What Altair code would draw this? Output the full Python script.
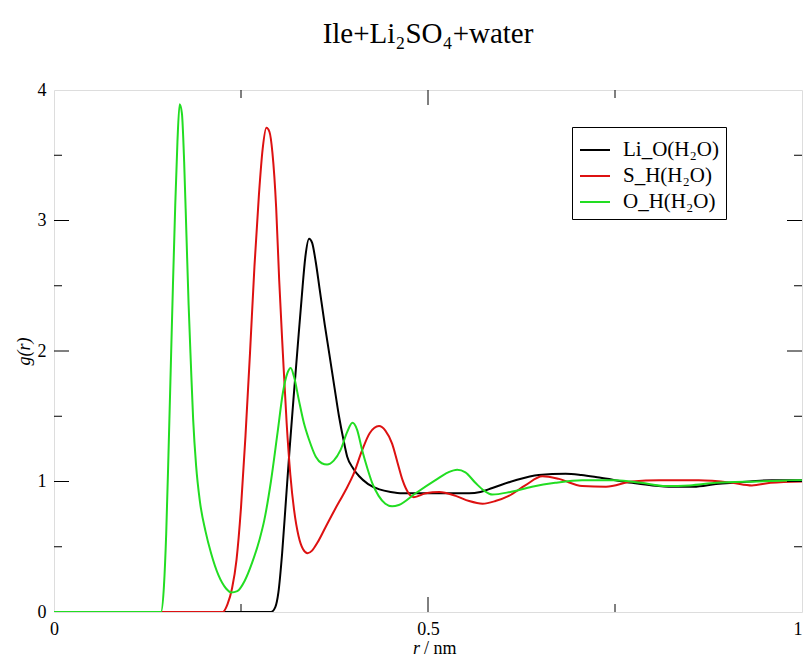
import altair as alt
import pandas as pd

# ---------------- data ----------------
series_names = ["Li_O(H₂O)", "S_H(H₂O)", "O_H(H₂O)"]
series_colors = ["#000000", "#dd1111", "#22dd22"]

r_li = [0.0, 0.29, 0.296, 0.300, 0.305, 0.310, 0.315, 0.320, 0.326, 0.331, 0.336,
        0.341, 0.345, 0.350, 0.355, 0.362, 0.368, 0.375, 0.381, 0.387, 0.392,
        0.400, 0.408, 0.420, 0.435, 0.450, 0.466, 0.520, 0.555, 0.570, 0.586,
        0.617, 0.648, 0.684, 0.705, 0.729, 0.773, 0.800, 0.827, 0.855, 0.885,
        0.930, 0.960, 1.0]
g_li = [0.0, 0.0, 0.04, 0.15, 0.45, 0.85, 1.25, 1.62, 2.05, 2.40, 2.72,
        2.86, 2.83, 2.68, 2.48, 2.20, 1.98, 1.72, 1.50, 1.32, 1.19,
        1.10, 1.04, 0.98, 0.94, 0.92, 0.91, 0.91, 0.91, 0.92, 0.95,
        1.01, 1.05, 1.06, 1.05, 1.03, 0.99, 0.97, 0.96, 0.96, 0.98,
        1.00, 1.01, 1.01]

r_s = [0.0, 0.2256, 0.232, 0.238, 0.244, 0.250, 0.256, 0.262, 0.268, 0.274, 0.279,
       0.284, 0.288, 0.292, 0.297, 0.301, 0.306, 0.311, 0.316, 0.321, 0.327,
       0.333, 0.339, 0.345, 0.352, 0.363, 0.375, 0.390, 0.400, 0.412, 0.422,
       0.4345, 0.443, 0.452, 0.459, 0.466, 0.474, 0.481, 0.497, 0.515, 0.537,
       0.555, 0.573, 0.590, 0.608, 0.630, 0.653, 0.675, 0.706, 0.738, 0.773,
       0.809, 0.862, 0.907, 0.933, 0.958, 1.0]
g_s = [0.0, 0.0, 0.06, 0.18, 0.40, 0.80, 1.35, 1.98, 2.65, 3.20, 3.55,
       3.71, 3.68, 3.52, 3.10, 2.55, 1.98, 1.45, 1.05, 0.78, 0.58,
       0.48, 0.45, 0.47, 0.53, 0.65, 0.78, 0.935, 1.05, 1.24, 1.37,
       1.425, 1.39, 1.29, 1.15, 1.01, 0.91, 0.88, 0.91, 0.92, 0.89,
       0.85, 0.83, 0.85, 0.89, 0.97, 1.04, 1.02, 0.965, 0.96, 1.00,
       1.01, 1.01, 0.99, 0.97, 0.99, 1.00]

r_o = [0.0, 0.143, 0.147, 0.150, 0.153, 0.156, 0.159, 0.162, 0.165, 0.168, 0.171,
       0.174, 0.177, 0.180, 0.183, 0.186, 0.190, 0.195, 0.2025, 0.210, 0.220,
       0.230, 0.237, 0.245, 0.255, 0.265, 0.275, 0.281, 0.290, 0.299, 0.306,
       0.312, 0.3165, 0.321, 0.3275, 0.334, 0.341, 0.350, 0.358, 0.365, 0.374,
       0.383, 0.392, 0.399, 0.405, 0.412, 0.419, 0.4256, 0.434, 0.443, 0.452,
       0.461, 0.4835, 0.510, 0.527, 0.539, 0.550, 0.564, 0.575, 0.586, 0.610,
       0.639, 0.670, 0.706, 0.751, 0.785, 0.818, 0.850, 0.885, 0.940, 1.0]
g_o = [0.0, 0.0, 0.20, 0.60, 1.20, 1.85, 2.50, 3.10, 3.60, 3.89, 3.82,
       3.45, 2.90, 2.35, 1.90, 1.48, 1.12, 0.85, 0.62, 0.45, 0.28,
       0.18, 0.15, 0.16, 0.24, 0.38, 0.56, 0.70, 1.00, 1.38, 1.68,
       1.83, 1.87, 1.80, 1.62, 1.45, 1.32, 1.19, 1.14, 1.13, 1.16,
       1.24, 1.38, 1.45, 1.40, 1.24, 1.10, 0.986, 0.89, 0.83, 0.81,
       0.82, 0.91, 1.01, 1.07, 1.09, 1.07, 0.986, 0.93, 0.90, 0.92,
       0.96, 0.99, 1.01, 1.01, 0.99, 0.965, 0.97, 0.99, 1.00, 1.01]

x_major_ticks = [0.5]
x_minor_ticks = [0.25, 0.75]
y_major_ticks = [1, 2, 3]
y_minor_ticks = [0.5, 1.5, 2.5, 3.5]
x_labels = [0, 0.5, 1]
y_labels = [0, 1, 2, 3, 4]

title_text = "Ile+Li₂SO₄+water"

# ---------------- build table ----------------
frames = []
for name, rs, gs in zip(series_names, [r_li, r_s, r_o], [g_li, g_s, g_o]):
    frames.append(pd.DataFrame({"r": rs, "g": gs, "series": name}))
df = pd.concat(frames, ignore_index=True)

W, H = 748, 522
FONT = "Liberation Serif"
MAJ, MIN = 15, 8

xscale = alt.Scale(domain=[0, 1], nice=False, zero=False)
yscale = alt.Scale(domain=[0, 4], nice=False, zero=False)

lines = alt.Chart(df).mark_line(strokeWidth=2, interpolate="monotone", clip=True).encode(
    x=alt.X("r:Q", scale=xscale,
            axis=alt.Axis(values=x_labels, format="~g", ticks=False, domain=False, grid=False,
                          labelFont=FONT, labelFontSize=18, labelColor="black",
                          labelPadding=8, labelFlush=False,
                          labelAlign={"condition": {"test": "datum.value == 1", "value": "right"},
                                      "value": "center"},
                          title=None)),
    y=alt.Y("g:Q", scale=yscale,
            axis=alt.Axis(values=y_labels, format="~g", ticks=False, domain=False, grid=False,
                          labelFont=FONT, labelFontSize=18, labelColor="black",
                          labelPadding=8, labelFlush=False,
                          title="g(r)", titleFont=FONT, titleFontSize=18,
                          titleFontStyle="italic", titleFontWeight="normal",
                          titleColor="black", titlePadding=4)),
    color=alt.Color("series:N",
                    scale=alt.Scale(domain=series_names, range=series_colors),
                    sort=series_names,
                    legend=alt.Legend(orient="none", legendX=518, legendY=37, title=None,
                                      strokeColor="black", fillColor="white",
                                      padding=7, symbolType="stroke", symbolStrokeWidth=2,
                                      symbolSize=900, labelOffset=12, rowPadding=0,
                                      labelFont=FONT, labelFontSize=21, labelColor="black")),
)


def tick_layer(values, axis, length):
    d = pd.DataFrame({"v": values})
    base = alt.Chart(d).mark_rule(color="black", strokeWidth=1)
    if axis == "bottom":
        return base.encode(x=alt.X("v:Q", scale=xscale), y=alt.value(H), y2=alt.value(H - length))
    if axis == "top":
        return base.encode(x=alt.X("v:Q", scale=xscale), y=alt.value(0), y2=alt.value(length))
    if axis == "left":
        return base.encode(y=alt.Y("v:Q", scale=yscale), x=alt.value(0), x2=alt.value(length))
    return base.encode(y=alt.Y("v:Q", scale=yscale), x=alt.value(W), x2=alt.value(W - length))


ticks = [
    tick_layer(x_major_ticks, "bottom", MAJ), tick_layer(x_minor_ticks, "bottom", MIN),
    tick_layer(x_major_ticks, "top", MAJ), tick_layer(x_minor_ticks, "top", MIN),
    tick_layer(y_major_ticks, "left", MAJ), tick_layer(y_minor_ticks, "left", MIN),
    tick_layer(y_major_ticks, "right", MAJ), tick_layer(y_minor_ticks, "right", MIN),
]

xt1 = alt.Chart(pd.DataFrame({"t": ["r"]})).mark_text(
    font=FONT, fontSize=18, fontStyle="italic", align="right", baseline="middle", color="black"
).encode(text="t:N", x=alt.value(366), y=alt.value(H + 37))
xt2 = alt.Chart(pd.DataFrame({"t": ["/ nm"]})).mark_text(
    font=FONT, fontSize=18, align="left", baseline="middle", color="black"
).encode(text="t:N", x=alt.value(370), y=alt.value(H + 37))

chart = alt.layer(lines, *ticks, xt1, xt2).resolve_scale(x="shared", y="shared").properties(
    width=W, height=H,
    autosize=alt.AutoSizeParams(type="none"),
    padding={"left": 54, "top": 90, "right": 3, "bottom": 49},
    title=alt.TitleParams(title_text, font=FONT, fontSize=29, fontWeight="normal",
                          color="black", anchor="middle", offset=32),
).configure_view(stroke="black", strokeWidth=1.2).configure(background="white")

chart.save("out.html", embed_options={"renderer": "svg", "actions": False})
